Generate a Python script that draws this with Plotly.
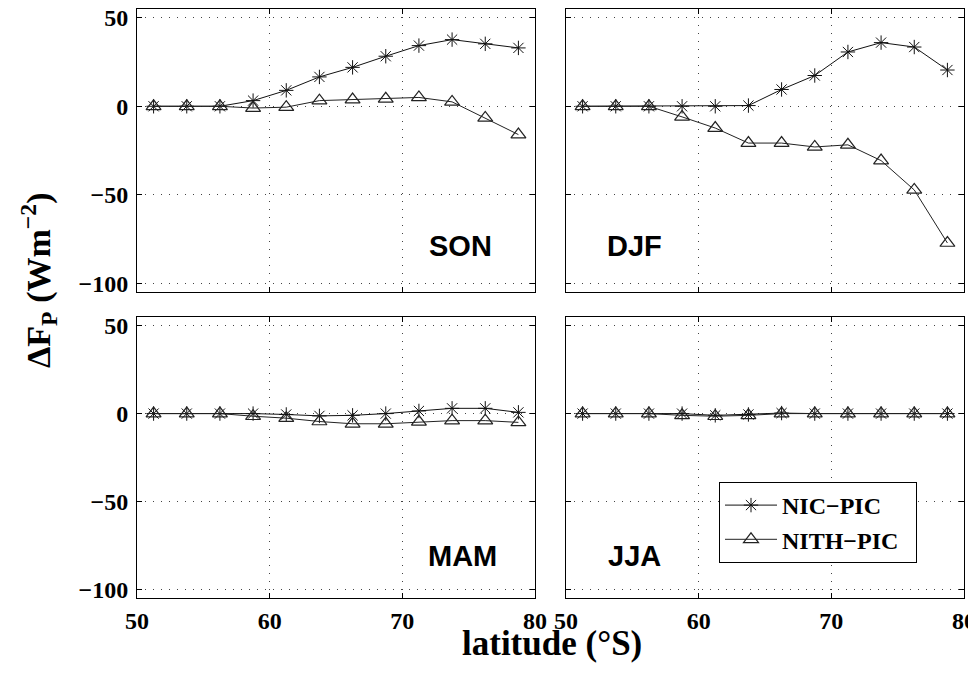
import plotly.graph_objects as go

lat = [51.25, 53.75, 56.25, 58.75, 61.25, 63.75, 66.25, 68.75, 71.25, 73.75, 76.25, 78.75]

son_nic = [0, 0, 0, 3.2, 9, 16.6, 22, 28.3, 34.3, 37.7, 35.3, 33]
son_nith = [0, 0, 0, -1, -0.5, 3.2, 3.8, 4.2, 5, 2.5, -6.6, -16]
djf_nic = [0, 0, 0, 0, 0, 0.4, 9.5, 17.4, 30.7, 36, 33.5, 20.5]
djf_nith = [0, 0, 0, -6, -12.3, -20.8, -20.8, -23, -21.8, -30.7, -47.3, -77.3]
mam_nic = [0, 0, 0, 0, -0.5, -1.3, -1, 0, 1.5, 3, 3, 0.7]
mam_nith = [0, 0, 0, -1.5, -2.6, -4.5, -5.8, -5.8, -4.7, -4, -4, -5]
jja_nic = [0, 0, 0, 0, -1, -0.5, 0.3, 0, 0, 0, 0, 0]
jja_nith = [0, 0, 0, -1, -1.5, -1, 0, 0, 0, 0, 0, 0]

seasons = ["SON", "DJF", "MAM", "JJA"]
nic = [son_nic, djf_nic, mam_nic, jja_nic]
nith = [son_nith, djf_nith, mam_nith, jja_nith]
label_pos = [(74.4, -79), (55.2, -79), (74.5, -81), (55.2, -81)]

yticks = [50, 0, -50, -100]
ytext = ["50", "0", "\u221250", "\u2212100"]
xticks = [50, 60, 70, 80]

OFF = 8                                   # page body margin
W, H = 976 - OFF, 677 - OFF
# plot area in page pixels
L, R, T, B = 137 - OFF, 964 - OFF, 9 - OFF, 598 - OFF
PW, PH = R - L, B - T


def px(xp):
    return (xp - OFF - L) / PW


def py(yp):
    return (B - (yp - OFF)) / PH


xdom = [[0, px(535)], [px(566), 1]]
ydom = [[py(292), 1], [0, py(317)]]

fig = go.Figure()
serif = "Liberation Serif"

for i, s in enumerate(seasons):
    ax = "" if i == 0 else str(i + 1)
    xa, ya = "x" + ax, "y" + ax
    show_leg = (i == 0)
    fig.add_trace(go.Scatter(
        x=lat, y=nic[i], mode="lines+markers", name="NIC\u2212PIC\u2002",
        line=dict(color="#111111", width=1),
        marker=dict(symbol="asterisk-open", size=12, color="#111111",
                    line=dict(color="#111111", width=1)),
        xaxis=xa, yaxis=ya, showlegend=show_leg, legendgroup="nic"))
    fig.add_trace(go.Scatter(
        x=lat, y=nith[i], mode="lines+markers", name="NITH\u2212PIC\u2002",
        line=dict(color="#222222", width=1),
        marker=dict(symbol="triangle-up-open", size=13, color="#222222",
                    line=dict(color="#222222", width=1.2)),
        xaxis=xa, yaxis=ya, showlegend=show_leg, legendgroup="nith"))

    col = i % 2
    row = i // 2
    axis_common = dict(showline=True, linecolor="black", linewidth=1, mirror="ticks",
                       ticks="inside", ticklen=5, tickcolor="black",
                       showgrid=True, gridcolor="#444444", griddash="1px,7px", gridwidth=1,
                       zeroline=False, automargin=False, ticklabeloverflow="allow",
                       tickfont=dict(family=serif, size=24, color="black", weight="bold"))
    fig.update_layout({
        "xaxis" + ax: dict(axis_common, domain=xdom[col], range=[50, 80],
                           tickvals=xticks, anchor=ya,
                           showticklabels=(row == 1), ticklabelstandoff=1),
        "yaxis" + ax: dict(axis_common, domain=ydom[row], range=[-105, 55],
                           tickvals=yticks, ticktext=ytext, anchor=xa,
                           showticklabels=(col == 0), ticklabelstandoff=3),
    })
    fig.add_annotation(x=label_pos[i][0], y=label_pos[i][1], xref=xa, yref=ya,
                       text="<b>%s</b>" % s, showarrow=False,
                       xanchor="center", yanchor="middle",
                       font=dict(family="Liberation Sans", size=29, color="black"))

fig.add_annotation(x=px(552), y=py(643), xref="paper", yref="paper",
                   text="<b>latitude (\u00b0S)</b>", showarrow=False,
                   xanchor="center", yanchor="middle",
                   font=dict(family=serif, size=35, color="black"))
fig.add_annotation(x=px(38), y=py(280), xref="paper", yref="paper",
                   text="<b>\u0394F<sub>P</sub> (Wm<sup>\u22122</sup>)</b>", showarrow=False,
                   textangle=-90, xanchor="center", yanchor="middle",
                   font=dict(family=serif, size=34, color="black"))

fig.update_layout(
    width=W, height=H,
    margin=dict(l=L, r=W - R, t=T, b=H - B, autoexpand=False),
    paper_bgcolor="white", plot_bgcolor="white",
    legend=dict(x=px(719), y=py(482), xanchor="left", yanchor="top",
                bordercolor="black", borderwidth=1, bgcolor="white",
                font=dict(family=serif, size=24, color="black", weight="bold"),
                tracegroupgap=0, itemwidth=52),
    showlegend=True,
)

fig.write_html("out.html")
